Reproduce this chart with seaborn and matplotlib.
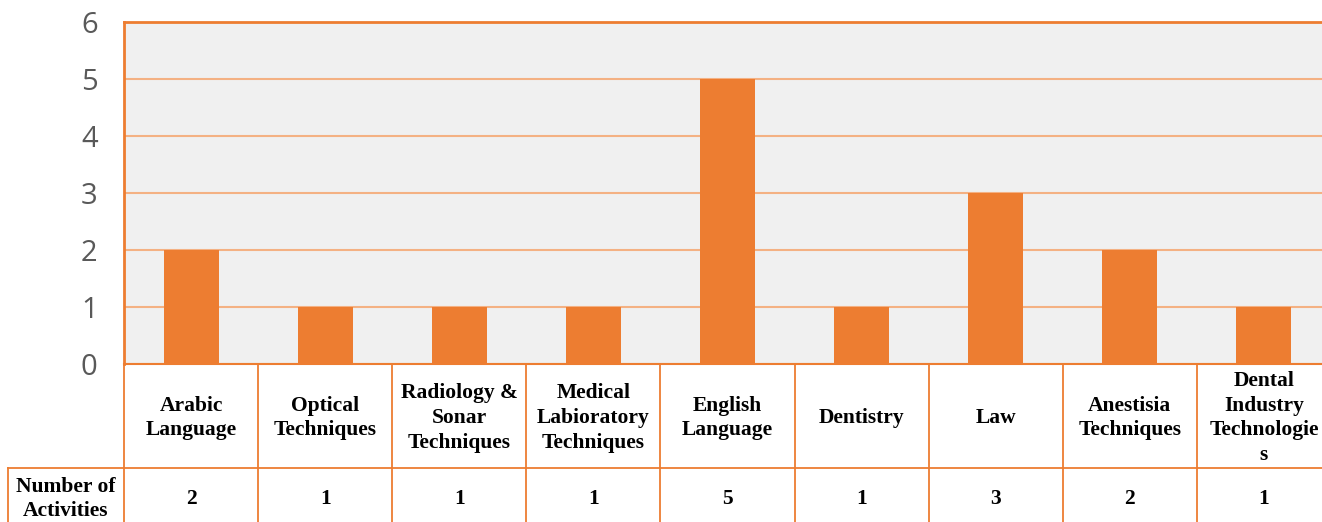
import matplotlib
matplotlib.use("Agg")
import matplotlib.pyplot as plt
import matplotlib.transforms as mtransforms
import seaborn as sns
import pandas as pd

categories = ["Arabic\nLanguage", "Optical\nTechniques", "Radiology &\nSonar\nTechniques",
              "Medical\nLabioratory\nTechniques", "English\nLanguage", "Dentistry", "Law",
              "Anestisia\nTechniques", "Dental\nIndustry\nTechnologie\ns"]
values = [2, 1, 1, 1, 5, 1, 3, 2, 1]
yticks = [0, 1, 2, 3, 4, 5, 6]
row_label = "Number of\nActivities"

ORANGE = "#ED7D31"
GRID = "#F4B183"

df = pd.DataFrame({"category": categories, "value": values})

W, H = 1322, 522
fig = plt.figure(figsize=(W / 100, H / 100), dpi=100)
ax = fig.add_axes([124 / W, 1 - 364 / H, 1207 / W, 342 / H])
ax.set_facecolor("#F0F0F0")

sns.barplot(data=df, x="category", y="value", color=ORANGE, saturation=1,
            width=0.41, ax=ax, zorder=3)

ax.set_xlim(-0.5, 8.5)
ax.set_ylim(0, 6)
ax.set_yticks(yticks)
ax.set_yticklabels([str(t) for t in yticks], family=["Open Sans", "DejaVu Sans"])
ax.tick_params(axis="y", length=0, pad=19, labelsize=21, labelcolor="#595959")
ax.set_xticks([])
ax.set_xlabel("")
ax.set_ylabel("")
ax.yaxis.grid(True, color=GRID, lw=1.5, zorder=0)
ax.set_axisbelow(True)
for s in ["top", "left"]:
    ax.spines[s].set_color(ORANGE)
    ax.spines[s].set_linewidth(2)
ax.spines["right"].set_visible(False)
ax.spines["bottom"].set_color(ORANGE)
ax.spines["bottom"].set_linewidth(1.5)

trans = mtransforms.blended_transform_factory(ax.transData, ax.transAxes)
ah = 342.0
y0 = 0.0
y1 = -(468 - 364) / ah
y2 = -(540 - 364) / ah
xleft = -0.5 - (124 - 8) / 134.0

lkw = dict(color=ORANGE, lw=1.3, transform=trans, clip_on=False)
for i in range(len(categories) + 1):
    x = i - 0.5
    ax.plot([x, x], [y1, y0], **lkw)
    ax.plot([x, x], [y2, y1], **lkw)
ax.plot([xleft, xleft], [y2, y1], **lkw)
ax.plot([xleft, 9.0], [y1, y1], **lkw)

tkw = dict(transform=trans, ha="center", va="center", fontsize=15.5,
           fontweight="bold", family=["Liberation Serif", "DejaVu Serif"],
           color="black", linespacing=1.32, clip_on=False)
ycat = -(418 - 364) / ah
yval = -(499 - 364) / ah
for i, (c, v) in enumerate(zip(categories, values)):
    ax.text(i, ycat, c, **tkw)
    ax.text(i, yval, str(v), **tkw)
ax.text((xleft - 0.5) / 2, yval, row_label, **tkw)

fig.savefig("out.png", dpi=100)
